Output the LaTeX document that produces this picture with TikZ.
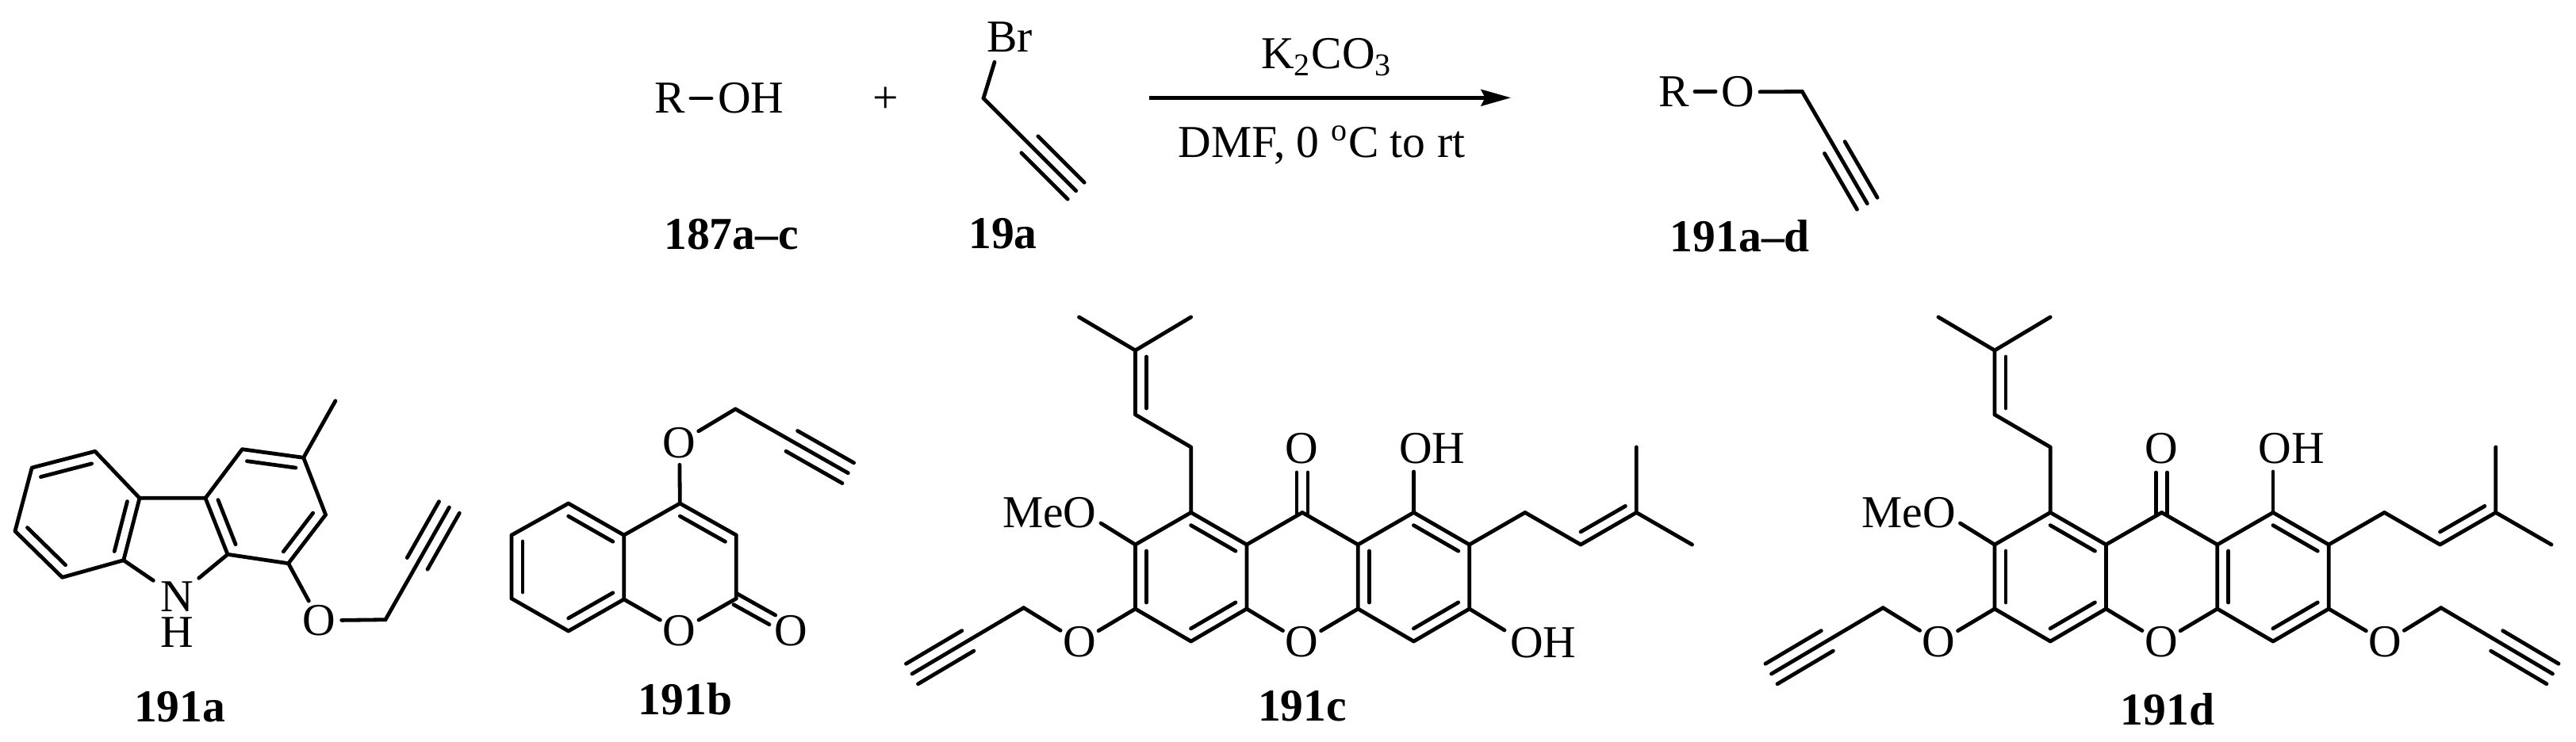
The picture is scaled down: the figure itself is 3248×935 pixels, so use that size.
\documentclass[tikz,border=0pt]{standalone}
\usepackage{fontspec}
\setmainfont{Liberation Serif}
\usetikzlibrary{calc,arrows.meta}
\tikzset{
  bond/.style={line width=1.2pt,line cap=round},
  lab/.style={inner sep=0pt,outer sep=0pt,font=\fontsize{14.4}{16}\selectfont,text height=9.4pt,text depth=0pt},
  cpd/.style={lab,font=\fontsize{14.4}{16}\selectfont\bfseries},
  atom/.style={lab,circle,minimum size=14pt},
  rxnarrow/.style={line width=1.2pt,-{Stealth[length=9.4pt,width=5.2pt,inset=1.3pt]}},
}
\newcommand\dbi[2]{\draw[bond] ($(#1)!2pt!(#2)!3.5pt!-90:(#2)$) -- ($(#2)!2pt!(#1)!3.5pt!90:(#1)$);}
\newcommand\tbond[2]{%
  \draw[bond] (#1) -- (#2);
  \draw[bond] ($(#1)!.5!(#2)!3.7pt!90:(#2)$) -- ($(#2)!3.7pt!-90:(#1)$);
  \draw[bond] ($(#1)!.5!(#2)!3.7pt!-90:(#2)$) -- ($(#2)!3.7pt!90:(#1)$);}
% shared prenylated xanthone skeleton, names prefixed by #1
\newcommand\xskeleton[1]{%
  \coordinate (#1A) at (1431.5,687);
  \coordinate (#1B) at (1501.7,646.5);
  \coordinate (#1C) at (1571.9,687);
  \coordinate (#1D) at (1642.1,646.5);
  \coordinate (#1E) at (1712.3,687);
  \coordinate (#1F) at (1782.5,646.5);
  \coordinate (#1G) at (1852.7,687);
  \coordinate (#1H) at (1852.7,768);
  \coordinate (#1I) at (1782.5,809);
  \coordinate (#1J) at (1712.3,768);
  \coordinate (#1L) at (1571.9,768);
  \coordinate (#1M) at (1501.7,809);
  \coordinate (#1N) at (1431.5,768);
  \node[atom] (#1Or) at (1641.5,810) {O};
  \draw[bond] (#1A) -- (#1B) (#1B) -- (#1C) (#1C) -- (#1L) (#1L) -- (#1M) (#1M) -- (#1N) (#1N) -- (#1A);
  \draw[bond] (#1C) -- (#1D) (#1D) -- (#1E) (#1E) -- (#1J) (#1J) -- (#1I) (#1I) -- (#1H) (#1H) -- (#1G) (#1G) -- (#1F) (#1F) -- (#1E);
  \draw[bond] (#1L) -- (#1Or) (#1Or) -- (#1J);
  \dbi{#1B}{#1C}\dbi{#1L}{#1M}\dbi{#1N}{#1A}\dbi{#1F}{#1G}\dbi{#1H}{#1I}\dbi{#1J}{#1E}
  % carbonyl
  \node[atom] (#1Oc) at (1641.5,566) {O};
  \coordinate (#1co1) at (1635,596); \coordinate (#1co2) at (1635,650);
  \coordinate (#1co3) at (1649,596); \coordinate (#1co4) at (1649,650);
  \draw[bond] (#1co1) -- (#1co2) (#1co3) -- (#1co4);
  % top hydroxyl
  \node[lab,anchor=west] (#1OH) at (1764,566) {OH};
  \coordinate (#1ohe) at (1782.5,595);
  \draw[bond] (#1F) -- (#1ohe);
  % methoxy
  \node[lab,anchor=west] (#1MeO) at (1264,647) {MeO};
  \coordinate (#1moe) at (1388,660);
  \draw[bond] (#1A) -- (#1moe);
  % left propargyl ether
  \node[atom] (#1Ol) at (1361,810) {O};
  \coordinate (#1pa) at (1290.7,766.7);
  \coordinate (#1pb) at (1150,850);
  \draw[bond] (#1N) -- (#1Ol) (#1Ol) -- (#1pa);
  \tbond{#1pa}{#1pb}
  % upper prenyl
  \coordinate (#1u1) at (1501.7,564);
  \coordinate (#1u2) at (1431.5,523);
  \coordinate (#1u3) at (1431.5,442);
  \coordinate (#1u4) at (1360.5,400);
  \coordinate (#1u5) at (1501.7,400);
  \draw[bond] (#1B) -- (#1u1) (#1u1) -- (#1u2) (#1u2) -- (#1u3) (#1u3) -- (#1u4) (#1u3) -- (#1u5);
  \dbi{#1u2}{#1u3}
  % right prenyl
  \coordinate (#1r1) at (1922.9,646.5);
  \coordinate (#1r2) at (1993.1,687);
  \coordinate (#1r3) at (2063.3,646.5);
  \coordinate (#1r4) at (2063.3,564);
  \coordinate (#1r5) at (2133.5,687);
  \draw[bond] (#1G) -- (#1r1) (#1r1) -- (#1r2) (#1r2) -- (#1r3) (#1r3) -- (#1r4) (#1r3) -- (#1r5);
  \dbi{#1r3}{#1r2}
}
\begin{document}
\begin{tikzpicture}[x=0.25pt,y=-0.25pt]
\useasboundingbox (0,0) rectangle (3248,935);
% ---------- reaction line ----------
\node[lab,anchor=west] (R1) at (825,124) {R};
\node[lab,anchor=west] (ROH) at (905,124) {OH};
\coordinate (r1a) at (871,124); \coordinate (r1b) at (897,124);
\draw[bond] (r1a) -- (r1b);
\node[lab] (plus) at (1116.5,124) {+};
\node[lab,anchor=west] (Br) at (1244,46.5) {Br};
\coordinate (bre) at (1254,78.3);
\coordinate (bra) at (1240,124);
\coordinate (brb) at (1356.7,240.7);
\draw[bond] (bre) -- (bra);
\tbond{bra}{brb}
\coordinate (arrS) at (1449,123.3);
\coordinate (arrE) at (1905,123.3);
\draw[rxnarrow] (arrS) -- (arrE);
\node[lab] (reag) at (1673,68) {K\textsubscript{2}CO\textsubscript{3}};
\node[lab] (cond) at (1666.5,180) {DMF, 0 \textsuperscript{o}C to rt};
\node[lab,anchor=west] (R2) at (2091.7,116) {R};
\node[atom] (Op) at (2191,116) {O};
\coordinate (r2a) at (2137,115.5); \coordinate (r2b) at (2163,115.5);
\draw[bond] (r2a) -- (r2b);
\coordinate (pa) at (2272.3,115.5);
\coordinate (pb) at (2354.3,256.7);
\draw[bond] (Op) -- (pa);
\tbond{pa}{pb}
\node[cpd] (l187) at (922,296) {187a--c};
\node[cpd] (l19) at (1264.5,294.5) {19a};
\node[cpd] (l191) at (2194,299) {191a--d};
% ---------- 191a ----------
\coordinate (a1) at (119.8,569.3);
\coordinate (a2) at (40.2,590);
\coordinate (a3) at (19,670);
\coordinate (a4) at (78.5,728.3);
\coordinate (a5) at (155.8,706.7);
\coordinate (a6) at (176,628.3);
\coordinate (a7) at (259,628.3);
\coordinate (a8) at (305.4,566.7);
\coordinate (a9) at (382.7,577.3);
\coordinate (a10) at (410.6,649.3);
\coordinate (a11) at (363.6,710.7);
\coordinate (a12) at (287,699.3);
\coordinate (ame) at (422.9,505.7);
\node[lab] (aN) at (223.3,752.7) {N};
\node[lab] (aH) at (223.3,798) {H};
\node[atom] (aO) at (402.7,782.7) {O};
\coordinate (aNl) at (193.3,732.3);
\coordinate (aNr) at (250.7,729.3);
\coordinate (apa) at (486,781.7);
\coordinate (apb) at (566.4,640);
\draw[bond] (a1) -- (a2) (a2) -- (a3) (a3) -- (a4) (a4) -- (a5) (a5) -- (a6) (a6) -- (a1);
\draw[bond] (a6) -- (a7) (a7) -- (a8) (a8) -- (a9) (a9) -- (a10) (a10) -- (a11) (a11) -- (a12) (a12) -- (a7);
\draw[bond] (a5) -- (aNl) (aNr) -- (a12) (a9) -- (ame) (a11) -- (aO) (aO) -- (apa);
\dbi{a2}{a1}\dbi{a6}{a5}\dbi{a4}{a3}\dbi{a8}{a9}\dbi{a10}{a11}\dbi{a12}{a7}
\tbond{apa}{apb}
\node[cpd] (l191a) at (226.7,891.5) {191a};
% ---------- 191b ----------
\coordinate (b1) at (716.7,635);
\coordinate (b2) at (645,675);
\coordinate (b3) at (645,755);
\coordinate (b4) at (716.7,796);
\coordinate (b5) at (786.7,756);
\coordinate (b6) at (786.7,675);
\coordinate (b7) at (857.3,635);
\coordinate (b8) at (928.3,675);
\coordinate (b9) at (928.3,755);
\node[atom] (bOr) at (856.7,796) {O};
\node[atom] (bOc) at (997.3,796) {O};
\node[atom] (bOt) at (856.7,558.3) {O};
\coordinate (bpa) at (927.3,516);
\coordinate (bpb) at (1069.3,596.7);
\coordinate (bc1) at (928.3,748.3); \coordinate (bc2) at (977.7,776);
\coordinate (bc3) at (925,762.7); \coordinate (bc4) at (970,787.7);
\draw[bond] (b1) -- (b2) (b2) -- (b3) (b3) -- (b4) (b4) -- (b5) (b5) -- (b6) (b6) -- (b1);
\draw[bond] (b6) -- (b7) (b7) -- (b8) (b8) -- (b9) (b9) -- (bOr) (bOr) -- (b5);
\draw[bond] (b7) -- (bOt) (bOt) -- (bpa) (bc1) -- (bc2) (bc3) -- (bc4);
\dbi{b1}{b6}\dbi{b5}{b4}\dbi{b3}{b2}\dbi{b7}{b8}
\tbond{bpa}{bpb}
\node[cpd] (l191b) at (864,883) {191b};
% ---------- 191c ----------
\xskeleton{c}
\node[lab,anchor=west] (cOH2) at (1904,810.5) {OH};
\coordinate (cohe) at (1897,795);
\draw[bond] (cH) -- (cohe);
\node[cpd] (l191c) at (1642,891) {191c};
% ---------- 191d ----------
\begin{scope}[shift={(1083.5,0)}]
\xskeleton{d}
\node[atom] (dOx) at (1924,810) {O};
\coordinate (dxa) at (1994.3,766.7);
\coordinate (dxb) at (2135,850);
\draw[bond] (dH) -- (dOx) (dOx) -- (dxa);
\tbond{dxa}{dxb}
\node[cpd] (l191d) at (1649.5,896) {191d};
\end{scope}
\end{tikzpicture}
\end{document}
